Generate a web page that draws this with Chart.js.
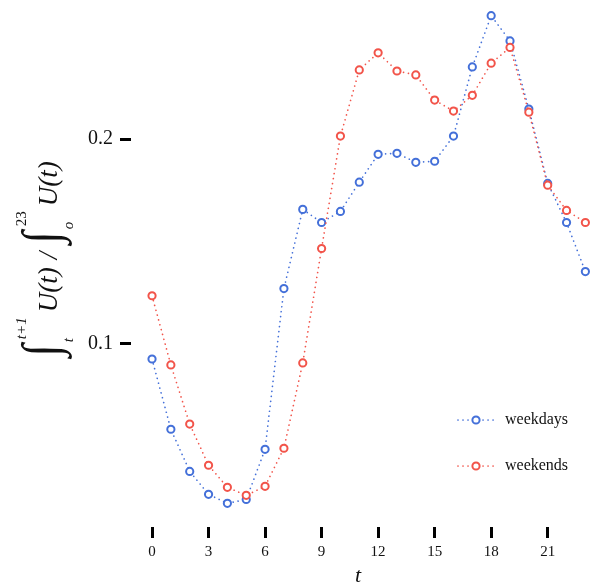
<!DOCTYPE html>
<html lang="en">
<head>
    <meta charset="UTF-8">
    <title>Hourly usage share</title>
    <script src="https://cdn.jsdelivr.net/npm/chart.js"></script>
    <style>
        body { margin: 0; background: #fff; }
        #wrap { width: 591px; height: 586px; }
    </style>
</head>
<body>
    <div id="wrap"><canvas id="usageChart" width="591" height="586"></canvas></div>

    <script>
        // data
        const hours = [0, 1, 2, 3, 4, 5, 6, 7, 8, 9, 10, 11, 12, 13, 14, 15, 16, 17, 18, 19, 20, 21, 22, 23];
        const weekdays = [0.0926, 0.0583, 0.0377, 0.0265, 0.0221, 0.0240, 0.0485, 0.1270, 0.1657, 0.1593, 0.1647, 0.1790,
                          0.1926, 0.1931, 0.1887, 0.1892, 0.2015, 0.2353, 0.2603, 0.2480, 0.2147, 0.1784, 0.1593, 0.1353];
        const weekends = [0.1235, 0.0897, 0.0608, 0.0407, 0.0299, 0.0260, 0.0304, 0.0490, 0.0907, 0.1466, 0.2015, 0.2338,
                          0.2422, 0.2333, 0.2314, 0.2191, 0.2137, 0.2214, 0.2371, 0.2448, 0.2132, 0.1775, 0.1652, 0.1593];
        const seriesNames = ['weekdays', 'weekends'];
        const xTicks = [0, 3, 6, 9, 12, 15, 18, 21];
        const yTicks = [0.1, 0.2];

        const SERIF = '"Liberation Serif", "DejaVu Serif", serif';
        const BLUE = '#4470d9';
        const RED = '#f2544a';

        function lineStyle(color) {
            return {
                borderColor: color,
                borderWidth: 1.7,
                borderDash: [0.01, 5],
                borderCapStyle: 'round',
                pointRadius: 3.6,
                pointBorderWidth: 2,
                pointBorderColor: color,
                pointBackgroundColor: '#fff',
                tension: 0,
                fill: false,
                clip: false
            };
        }

        // y axis label: ∫_t^{t+1} U(t) / ∫_o^{23} U(t)
        const yLabelPlugin = {
            id: 'yLabel',
            afterDraw(chart) {
                const ctx = chart.ctx;
                const intFont = '40px ' + SERIF;
                const main = 'italic 27px ' + SERIF;
                const small = 'italic 15px ' + SERIF;
                const smallUp = '15px ' + SERIF;
                const parts = [
                    { int: true },
                    { sup: 't+1', supF: small, sub: 't', subF: small },
                    { t: 'U(t)', f: main, gap: 8 },
                    { t: '/', f: main, gap: 8 },
                    { int: true },
                    { sup: '23', supF: smallUp, sub: 'o', subF: small },
                    { t: 'U(t)', f: main }
                ];
                ctx.save();
                ctx.font = intFont;
                const im = ctx.measureText('\u222B');
                const intH = im.actualBoundingBoxAscent + im.actualBoundingBoxDescent;
                const sy = 52 / intH;
                const sx = 1.15;
                let total = 0;
                parts.forEach(p => {
                    if (p.int) {
                        p.w = im.width * sx + 5;
                    } else if (p.t) {
                        ctx.font = p.f;
                        p.w = ctx.measureText(p.t).width + (p.gap || 0);
                    } else {
                        ctx.font = p.supF;
                        const a = ctx.measureText(p.sup).width;
                        ctx.font = p.subF;
                        const b = ctx.measureText(p.sub).width;
                        p.w = Math.max(a, b) + 5;
                    }
                    total += p.w;
                });
                ctx.translate(57, 259 + total / 2);
                ctx.rotate(-Math.PI / 2);
                ctx.fillStyle = '#111';
                ctx.textBaseline = 'alphabetic';
                let x = 0;
                parts.forEach(p => {
                    if (p.int) {
                        ctx.save();
                        ctx.font = intFont;
                        // glyph top at -37 above the text baseline, stretched to 52px
                        ctx.translate(x, -37 + im.actualBoundingBoxAscent * sy);
                        ctx.scale(sx, sy);
                        ctx.fillText('\u222B', 0, 0);
                        ctx.restore();
                    } else if (p.t) {
                        ctx.font = p.f;
                        ctx.fillText(p.t, x, 0);
                    } else {
                        ctx.font = p.supF;
                        ctx.fillText(p.sup, x, -31);
                        ctx.font = p.subF;
                        ctx.fillText(p.sub, x - 3, 16);
                    }
                    x += p.w;
                });
                ctx.restore();
            }
        };

        // legend in the lower right corner
        const legendPlugin = {
            id: 'cornerLegend',
            afterDraw(chart) {
                const ctx = chart.ctx;
                const rows = [420, 466];
                seriesNames.forEach((name, i) => {
                    const ds = chart.data.datasets.find(d => d.label === name);
                    const y = rows[i];
                    ctx.save();
                    ctx.strokeStyle = ds.borderColor;
                    ctx.lineWidth = ds.borderWidth;
                    ctx.lineCap = 'round';
                    ctx.setLineDash(ds.borderDash);
                    ctx.beginPath();
                    ctx.moveTo(458, y);
                    ctx.lineTo(495, y);
                    ctx.stroke();
                    ctx.setLineDash([]);
                    ctx.beginPath();
                    ctx.arc(476, y, ds.pointRadius, 0, Math.PI * 2);
                    ctx.fillStyle = '#fff';
                    ctx.fill();
                    ctx.lineWidth = ds.pointBorderWidth;
                    ctx.stroke();
                    ctx.fillStyle = '#111';
                    ctx.font = '16px ' + SERIF;
                    ctx.textBaseline = 'middle';
                    ctx.fillText(ds.label, 505, y);
                    ctx.restore();
                });
            }
        };

        const ctx = document.getElementById('usageChart').getContext('2d');
        const chart = new Chart(ctx, {
            type: 'line',
            data: {
                datasets: [
                    Object.assign({ label: seriesNames[1], data: weekends.map((v, i) => ({ x: hours[i], y: v })) }, lineStyle(RED)),
                    Object.assign({ label: seriesNames[0], data: weekdays.map((v, i) => ({ x: hours[i], y: v })) }, lineStyle(BLUE))
                ]
            },
            options: {
                responsive: false,
                animation: false,
                layout: { padding: { left: 86, right: 2, top: 8, bottom: 0 } },
                plugins: { legend: { display: false }, tooltip: { enabled: false } },
                scales: {
                    x: {
                        type: 'linear',
                        min: -1.116,
                        max: 22.98,
                        afterBuildTicks: s => { s.ticks = xTicks.map(v => ({ value: v })); },
                        afterFit: s => { s.height = 59; },
                        grid: { drawOnChartArea: false, drawTicks: true, tickLength: 11, tickWidth: 3, tickColor: '#000' },
                        border: { display: false },
                        ticks: { font: { family: SERIF, size: 15 }, color: '#111', padding: 5, maxRotation: 0 },
                        title: { display: true, text: 't', color: '#111', font: { family: SERIF, size: 22, style: 'italic' }, padding: { top: 0, bottom: -3 } }
                    },
                    y: {
                        type: 'linear',
                        min: 0.01054,
                        max: 0.2587,
                        afterBuildTicks: s => { s.ticks = yTicks.map(v => ({ value: v })); },
                        afterFit: s => { s.width = 45; },
                        grid: { drawOnChartArea: false, drawTicks: true, tickLength: 11, tickWidth: 3, tickColor: '#000' },
                        border: { display: false },
                        ticks: { font: { family: SERIF, size: 20 }, color: '#111', padding: 7, callback: v => v.toFixed(1) }
                    }
                }
            },
            plugins: [yLabelPlugin, legendPlugin]
        });
    </script>
</body>
</html>
